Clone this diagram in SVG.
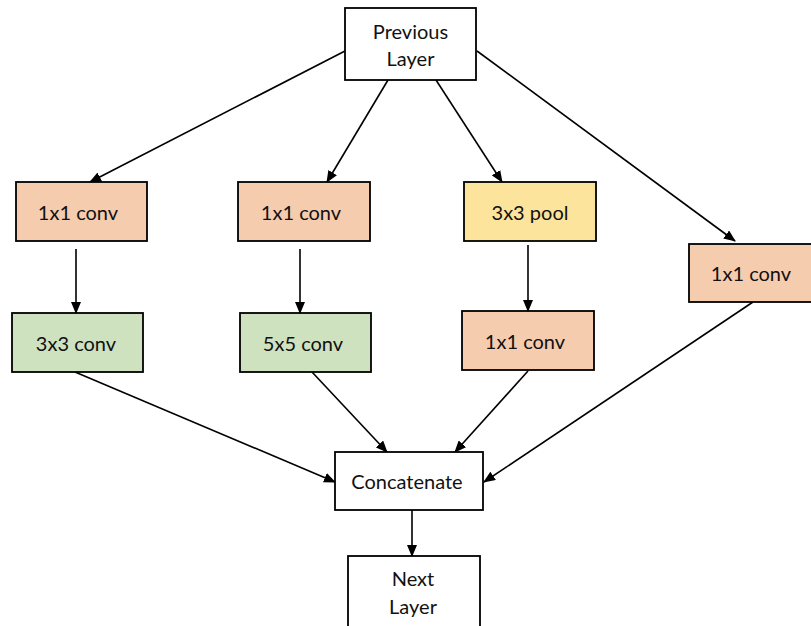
<svg xmlns="http://www.w3.org/2000/svg" width="811" height="626" viewBox="0 0 811 626">
<defs>
<style>
.box{stroke:#000;stroke-width:1.8}
.w{fill:#fff}
.o{fill:#F6CCAF}
.g{fill:#CFE2C0}
.y{fill:#FDE49C}
.t{font-family:Lato,"Open Sans","Liberation Sans",sans-serif;font-size:20px;fill:#111;text-anchor:middle;dominant-baseline:central}
.c{stroke:#000;stroke-width:1.6;fill:none;marker-end:url(#ah)}
</style>
<marker id="ah" markerUnits="userSpaceOnUse" markerWidth="12" markerHeight="10" refX="11" refY="5" orient="auto">
<path d="M0,0 L12,5 L0,10 Z" fill="#000"/>
</marker>
</defs>
<rect width="811" height="626" fill="#fff"/>
<g id="connectors">
<line class="c" x1="345" y1="51" x2="90" y2="182"/>
<line class="c" x1="388" y1="80" x2="327" y2="182"/>
<line class="c" x1="436" y1="80" x2="502" y2="182"/>
<line class="c" x1="477" y1="51" x2="735" y2="241"/>
<line class="c" x1="76" y1="249" x2="76" y2="313"/>
<line class="c" x1="300" y1="249" x2="300" y2="313"/>
<line class="c" x1="528" y1="245" x2="528" y2="311"/>
<line class="c" x1="75" y1="372" x2="335" y2="482"/>
<line class="c" x1="312" y1="372" x2="387" y2="452"/>
<line class="c" x1="528" y1="371" x2="455" y2="452"/>
<line class="c" x1="753" y1="302" x2="484" y2="482"/>
<line class="c" x1="412" y1="510" x2="412" y2="556"/>
</g>
<g id="previous-layer">
<rect class="box w" x="345" y="8" width="131" height="72"/>
<text class="t" x="410.5" y="31">Previous</text>
<text class="t" x="410.5" y="58">Layer</text>
</g>
<g id="conv1x1-a">
<rect class="box o" x="16" y="182" width="131" height="59"/>
<text class="t" x="78" y="211.5">1x1 conv</text>
</g>
<g id="conv1x1-b">
<rect class="box o" x="238" y="182" width="132" height="59"/>
<text class="t" x="301" y="211.5">1x1 conv</text>
</g>
<g id="pool3x3">
<rect class="box y" x="464" y="182" width="132" height="59"/>
<text class="t" x="530" y="211.5">3x3 pool</text>
</g>
<g id="conv1x1-d">
<rect class="box o" x="689" y="244" width="130" height="58"/>
<text class="t" x="751" y="273">1x1 conv</text>
</g>
<g id="conv3x3">
<rect class="box g" x="12" y="313" width="131" height="59"/>
<text class="t" x="76" y="342.5">3x3 conv</text>
</g>
<g id="conv5x5">
<rect class="box g" x="240" y="313" width="131" height="59"/>
<text class="t" x="303" y="342.5">5x5 conv</text>
</g>
<g id="conv1x1-c">
<rect class="box o" x="462" y="311" width="132" height="59"/>
<text class="t" x="525" y="340.5">1x1 conv</text>
</g>
<g id="concatenate">
<rect class="box w" x="335" y="452" width="148" height="58"/>
<text class="t" x="407" y="481">Concatenate</text>
</g>
<g id="next-layer">
<rect class="box w" x="348" y="556" width="132" height="80"/>
<text class="t" x="413" y="578">Next</text>
<text class="t" x="413" y="606">Layer</text>
</g>
</svg>
